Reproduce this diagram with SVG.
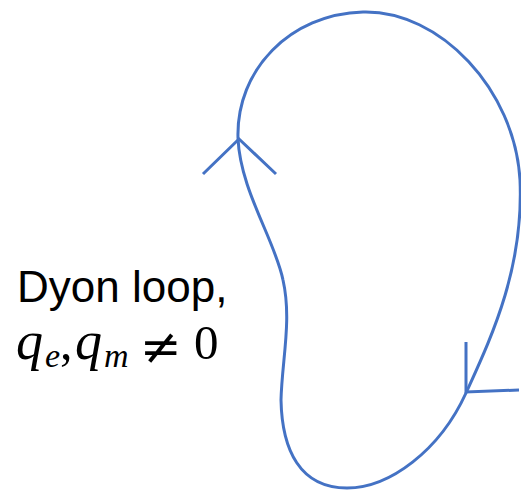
<svg xmlns="http://www.w3.org/2000/svg" width="521" height="490" viewBox="0 0 521 490">
<style>
.ln{fill:none;stroke:#4472C4;stroke-width:3;stroke-linecap:butt;stroke-linejoin:miter}
.lbl{font-family:"Liberation Sans",Arial,sans-serif;font-size:44px;fill:#000}
.m{font-family:"Liberation Serif","Times New Roman",serif;fill:#000}
.it{font-style:italic}
.ne{font-family:"DejaVu Serif","Liberation Serif",serif}
</style>
<g id="connectors">
<path class="ln" d="M238,138 C236,70 290,14 363,12 C440,10 515,90 520,180 C524,270 490,340 466,393 C440,450 390,488 347,488 C300,488 282,450 281,400 C282,360 292,320 283,280 C275,240 240,190 238,138 Z"/>
<polyline class="ln" points="203,174 239,139 276,174"/>
<polyline class="ln" points="466,342 466,392 519,390"/>
</g>
<g id="label">
<text class="lbl" x="17" y="302">Dyon loop,</text>
<text class="m" y="359"><tspan class="it" x="16" font-size="54">q</tspan><tspan class="it" x="45" y="367" font-size="34">e</tspan><tspan x="60" y="359" font-size="50">,</tspan><tspan class="it" x="75" font-size="54">q</tspan><tspan class="it" x="104" y="367" font-size="34">m</tspan><tspan class="ne" x="140" y="364" font-size="50">≠</tspan><tspan x="194" y="359" font-size="49">0</tspan></text>
</g>
</svg>
